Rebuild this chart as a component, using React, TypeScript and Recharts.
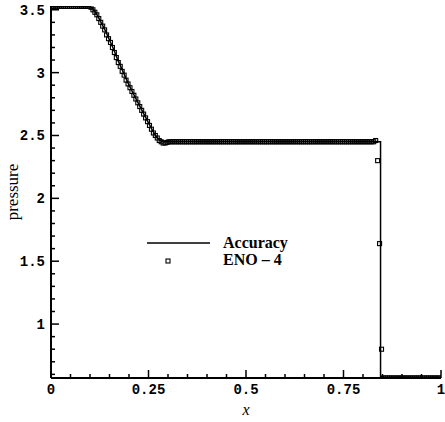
import { ComposedChart, Line, Scatter, XAxis, YAxis, Legend, Label } from 'recharts';

// exact solution
const exactX = [0, 0.1, 0.11, 0.12, 0.13, 0.14, 0.15, 0.16, 0.17, 0.18, 0.19, 0.2, 0.21, 0.22, 0.23, 0.24, 0.25, 0.26, 0.27, 0.28, 0.29, 0.845, 0.845, 1];
const exactP = [3.528, 3.528, 3.5, 3.45, 3.39, 3.33, 3.26, 3.19, 3.11, 3.04, 2.97, 2.9, 2.84, 2.78, 2.72, 2.66, 2.6, 2.54, 2.49, 2.46, 2.45, 2.45, 0.571, 0.571];

// ENO-4 cell values, 200 cells of width 0.005
const enoCellWidth = 0.005;
const enoP = [
  3.528, 3.528, 3.528, 3.528, 3.528, 3.528, 3.528, 3.528, 3.528, 3.528,
  3.528, 3.528, 3.528, 3.528, 3.528, 3.528, 3.528, 3.528, 3.528, 3.528,
  3.52, 3.5, 3.48, 3.46, 3.43, 3.4, 3.37, 3.34, 3.3, 3.27,
  3.24, 3.2, 3.16, 3.12, 3.08, 3.05, 3.01, 2.98, 2.94, 2.91,
  2.88, 2.85, 2.82, 2.79, 2.76, 2.73, 2.7, 2.67, 2.64, 2.61,
  2.58, 2.55, 2.52, 2.5, 2.48, 2.46, 2.45, 2.44, 2.44, 2.445,
  2.45, 2.45, 2.45, 2.45, 2.45, 2.45, 2.45, 2.45, 2.45, 2.45,
  2.45, 2.45, 2.45, 2.45, 2.45, 2.45, 2.45, 2.45, 2.45, 2.45,
  2.45, 2.45, 2.45, 2.45, 2.45, 2.45, 2.45, 2.45, 2.45, 2.45,
  2.45, 2.45, 2.45, 2.45, 2.45, 2.45, 2.45, 2.45, 2.45, 2.45,
  2.45, 2.45, 2.45, 2.45, 2.45, 2.45, 2.45, 2.45, 2.45, 2.45,
  2.45, 2.45, 2.45, 2.45, 2.45, 2.45, 2.45, 2.45, 2.45, 2.45,
  2.45, 2.45, 2.45, 2.45, 2.45, 2.45, 2.45, 2.45, 2.45, 2.45,
  2.45, 2.45, 2.45, 2.45, 2.45, 2.45, 2.45, 2.45, 2.45, 2.45,
  2.45, 2.45, 2.45, 2.45, 2.45, 2.45, 2.45, 2.45, 2.45, 2.45,
  2.45, 2.45, 2.45, 2.45, 2.45, 2.45, 2.45, 2.45, 2.45, 2.45,
  2.45, 2.45, 2.45, 2.45, 2.45, 2.45, 2.46, 2.3, 1.64, 0.8,
  0.571, 0.571, 0.571, 0.571, 0.571, 0.571, 0.571, 0.571, 0.571, 0.571,
  0.571, 0.571, 0.571, 0.571, 0.571, 0.571, 0.571, 0.571, 0.571, 0.571,
  0.571, 0.571, 0.571, 0.571, 0.571, 0.571, 0.571, 0.571, 0.571, 0.571,
];

const xMajorTicks = [0, 0.25, 0.5, 0.75, 1];
const xMinorTicks = [0.05, 0.1, 0.15, 0.2, 0.3, 0.35, 0.4, 0.45, 0.55, 0.6, 0.65, 0.7, 0.8, 0.85, 0.9, 0.95];
const yMajorTicks = [1, 1.5, 2, 2.5, 3, 3.5];
const yMinorTicks = [0.6, 0.7, 0.8, 0.9, 1.1, 1.2, 1.3, 1.4, 1.6, 1.7, 1.8, 1.9, 2.1, 2.2, 2.3, 2.4, 2.6, 2.7, 2.8, 2.9, 3.1, 3.2, 3.3, 3.4];

const exactData = exactX.map((x, i) => ({ x, p: exactP[i] }));
const enoData = enoP.map((p, i) => ({ x: (i + 0.5) * enoCellWidth, p }));

const xTicks = [...xMajorTicks, ...xMinorTicks].sort((a, b) => a - b);
const yTicks = [...yMajorTicks, ...yMinorTicks].sort((a, b) => a - b);

const tickFont = { fontFamily: '"Liberation Mono", monospace', fontSize: 14, fontWeight: 700 };

function XTick(props: any) {
  const { x, y, payload } = props;
  const major = xMajorTicks.includes(payload.value);
  return (
    <g>
      <line x1={x} y1={y} x2={x} y2={y - (major ? 8 : 4)} stroke="#000" strokeWidth={1.5} />
      {major && (
        <text x={x} y={y + 16} textAnchor="middle" fill="#000" style={tickFont}>
          {String(payload.value)}
        </text>
      )}
    </g>
  );
}

function YTick(props: any) {
  const { x, y, payload } = props;
  const major = yMajorTicks.includes(payload.value);
  return (
    <g>
      <line x1={x} y1={y} x2={x + (major ? 8 : 4)} y2={y} stroke="#000" strokeWidth={1.5} />
      {major && (
        <text x={x - 6} y={y + 5} textAnchor="end" fill="#000" style={tickFont}>
          {String(payload.value)}
        </text>
      )}
    </g>
  );
}

function OpenSquare(props: any) {
  const { cx, cy } = props;
  if (cx == null || cy == null) return null;
  return <rect x={cx - 2} y={cy - 2} width={4} height={4} fill="none" stroke="#000" strokeWidth={1.1} />;
}

function LegendBox() {
  const font = { fontFamily: '"Liberation Serif", serif', fontSize: 16, fontWeight: 700 };
  return (
    <svg width={445} height={422} style={{ display: 'block' }}>
      <line x1={147} y1={243} x2={210} y2={243} stroke="#000" strokeWidth={1.5} />
      <rect x={166} y={259} width={4} height={4} fill="none" stroke="#000" strokeWidth={1.1} />
      <text x={223} y={248} fill="#000" style={font}>Accuracy</text>
      <text x={223} y={265} fill="#000" style={font}>ENO – 4</text>
    </svg>
  );
}

export default function App() {
  return (
    <div style={{ position: 'absolute', left: 0, top: 0, width: 445, height: 422, background: '#fff' }}>
      <ComposedChart width={445} height={422} margin={{ top: 6, right: 4, bottom: 0, left: 0 }}>
        <XAxis
          dataKey="x"
          type="number"
          domain={[0, 1]}
          ticks={xTicks}
          interval={0}
          tickSize={0}
          tickMargin={0}
          tickLine={false}
          tick={XTick}
          axisLine={{ stroke: '#000', strokeWidth: 2 }}
          height={44}
          allowDataOverflow
        >
          <Label
            value="x"
            position="insideBottom"
            offset={7}
            style={{ fontFamily: '"Liberation Serif", serif', fontStyle: 'italic', fontSize: 16, fill: '#000' }}
          />
        </XAxis>
        <YAxis
          type="number"
          domain={[0.571, 3.53]}
          ticks={yTicks}
          interval={0}
          tickSize={0}
          tickMargin={0}
          tickLine={false}
          tick={YTick}
          axisLine={{ stroke: '#000', strokeWidth: 2 }}
          width={51}
          allowDataOverflow
        >
          <Label
            value="pressure"
            angle={-90}
            position="insideLeft"
            offset={12}
            style={{ fontFamily: '"Liberation Serif", serif', fontSize: 17, fill: '#000', textAnchor: 'middle' }}
          />
        </YAxis>
        <Legend
          layout="vertical"
          align="center"
          verticalAlign="middle"
          content={LegendBox}
          wrapperStyle={{ left: 0, top: 0, width: 445, height: 422, pointerEvents: 'none' }}
        />
        <Line data={exactData} dataKey="p" type="linear" stroke="#000" strokeWidth={1.5} dot={false} isAnimationActive={false} />
        <Scatter data={enoData} dataKey="p" shape={OpenSquare} isAnimationActive={false} />
      </ComposedChart>
    </div>
  );
}
